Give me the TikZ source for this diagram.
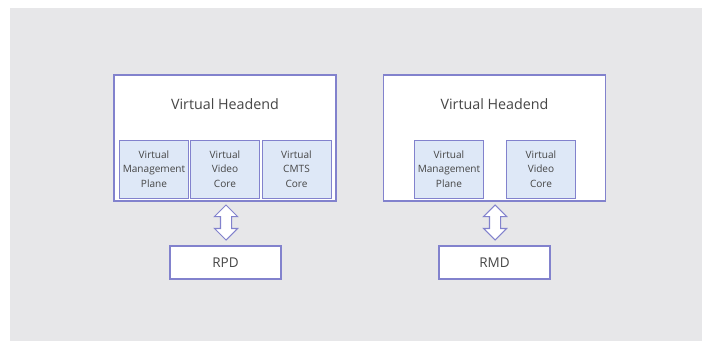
\documentclass[tikz,border=0pt]{standalone}
\usepackage{fontspec}
\setmainfont{Open Sans}
\usepackage{tikz}
\usetikzlibrary{positioning,shapes.arrows}
\definecolor{edge}{RGB}{130,130,205}
\definecolor{bg}{RGB}{231,231,233}
\definecolor{core}{RGB}{222,232,247}
\definecolor{txt}{RGB}{70,70,70}

\begin{document}
\begin{tikzpicture}[x=0.03cm, y=-0.03cm,
    headend/.style={draw=edge, fill=white, line width=0.9pt, minimum width=6.66cm, minimum height=3.78cm, inner sep=0pt},
    corebox/.style={draw=edge, fill=core, line width=0.8pt, minimum width=2.07cm, minimum height=1.74cm, inner sep=0pt, align=center, font=\fontsize{8.6}{12.2}\selectfont, text=txt},
    remote/.style={draw=edge, fill=white, line width=0.9pt, minimum width=3.33cm, minimum height=0.99cm, inner sep=0pt, font=\fontsize{11.5}{13}\selectfont, text=txt},
    link/.style={draw=edge, fill=white, line width=0.9pt, double arrow, shape border rotate=90, minimum height=1.05cm, inner sep=0.15cm, double arrow head extend=0.18cm, double arrow head indent=0pt}]
        \useasboundingbox (0,0) rectangle (702,341);
        \fill[bg] (10,8) rectangle (702,341);

        % left headend
        \node[headend] (he1) at (225,138) {};
        \node[text=txt, font=\fontsize{12.2}{14}\selectfont] (he1t) at (225,104) {Virtual Headend};
        \node[corebox] (mp1) at (154,169) {Virtual\\Management\\Plane};
        \node[corebox] (vc1) at (225,169) {Virtual\\Video\\Core};
        \node[corebox] (cm1) at (296.5,169) {Virtual\\CMTS\\Core};
        \node[remote] (rpd) at (225.5,262.5) {RPD};
        \node[link] (ar1) at (226,222.5) {};

        % right headend
        \node[headend] (he2) at (494.5,138) {};
        \node[text=txt, font=\fontsize{12.2}{14}\selectfont] (he2t) at (494.5,104) {Virtual Headend};
        \node[corebox] (mp2) at (449,169) {Virtual\\Management\\Plane};
        \node[corebox] (vc2) at (541,169) {Virtual\\Video\\Core};
        \node[remote] (rmd) at (494.5,262.5) {RMD};
        \node[link] (ar2) at (495,222.5) {};
\end{tikzpicture}
\end{document}
